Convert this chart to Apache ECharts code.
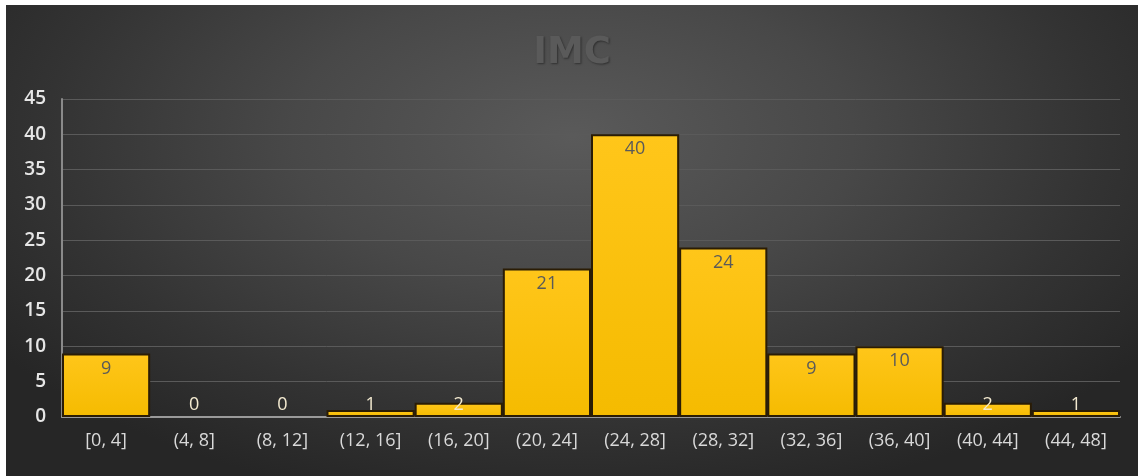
<!DOCTYPE html>
<html>
<head>
<meta charset="utf-8">
<script src="https://cdn.jsdelivr.net/npm/echarts@6/dist/echarts.min.js"></script>
<style>
html,body{margin:0;padding:0;background:#ffffff;width:1138px;height:476px;overflow:hidden;}
#wrap{position:absolute;left:6px;top:5px;width:1132px;height:471px;
background:radial-gradient(ellipse 62% 80% at 50% 28%, #5a5a5a 0%, #484848 40%, #333333 75%, #262626 100%);}
#chart{width:1132px;height:471px;}
</style>
</head>
<body>
<div id="wrap"><div id="chart"></div></div>
<script>
const titleText = 'IMC';
const categories = ['[0, 4]','(4, 8]','(8, 12]','(12, 16]','(16, 20]','(20, 24]','(24, 28]','(28, 32]','(32, 36]','(36, 40]','(40, 44]','(44, 48]'];
const counts = [9, 0, 0, 1, 2, 21, 40, 24, 9, 10, 2, 1];
const yTicks = {min: 0, max: 45, interval: 5};

const data = counts.map(v => {
  const small = v < 5;
  const item = {
    value: v,
    label: small
      ? {position: 'insideBottom', distance: 3, color: '#f3ead0'}
      : {position: 'insideTop', distance: 6, color: '#5a5a5a'}
  };
  if (v === 0) item.itemStyle = {borderWidth: 0};
  return item;
});

const chart = echarts.init(document.getElementById('chart'), null, {renderer: 'canvas'});
chart.setOption({
  backgroundColor: 'transparent',
  animation: false,
  title: {
    text: titleText,
    left: 'center',
    top: 25,
    textStyle: {
      fontFamily: 'DejaVu Sans',
      fontSize: 37,
      fontWeight: 'bold',
      color: '#5a5a5a',
      textShadowColor: 'rgba(0,0,0,0.4)',
      textShadowBlur: 2,
      textShadowOffsetX: 1,
      textShadowOffsetY: 1
    }
  },
  grid: {left: 56, right: 18, top: 94, bottom: 59, containLabel: false},
  xAxis: {
    type: 'category',
    data: categories,
    axisLine: {show: true, lineStyle: {color: '#9a9a9a', width: 2}},
    axisTick: {show: false},
    axisLabel: {color: '#d9d9d9', fontSize: 18, fontFamily: 'Open Sans', margin: 15}
  },
  yAxis: {
    type: 'value',
    min: yTicks.min, max: yTicks.max, interval: yTicks.interval,
    axisLine: {show: true, lineStyle: {color: '#8a8a8a', width: 2}},
    axisTick: {show: false},
    splitLine: {lineStyle: {color: '#5a5a5a', width: 1}},
    axisLabel: {color: '#e6e6e6', fontSize: 19, fontFamily: 'Open Sans', fontWeight: 600, margin: 16}
  },
  series: [{
    type: 'bar',
    data: data,
    barCategoryGap: '0%',
    itemStyle: {
      color: new echarts.graphic.LinearGradient(0, 0, 0, 1, [
        {offset: 0, color: '#ffc61a'},
        {offset: 1, color: '#f5bb00'}
      ]),
      borderColor: '#2a1c05',
      borderWidth: 2
    },
    label: {show: true, fontSize: 18, fontFamily: 'Open Sans'}
  }]
});
</script>
</body>
</html>
